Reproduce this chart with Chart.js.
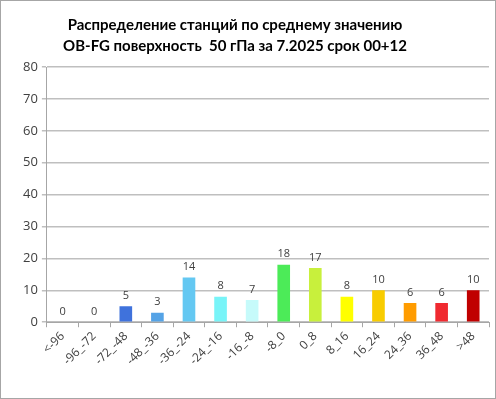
<!DOCTYPE html>
<html>
<head>
<meta charset="utf-8">
<script src="https://cdn.jsdelivr.net/npm/chart.js@4"></script>
<style>
  html, body { margin: 0; padding: 0; background: #fff; }
  #wrap { width: 496px; height: 399px; box-sizing: border-box; border: 1px solid #a6a6a6; }
</style>
</head>
<body>
<div id="wrap"><canvas id="distChart" width="494" height="397"></canvas></div>
<script>
const categories = ["<-96", "-96_-72", "-72_-48", "-48_-36", "-36_-24", "-24_-16", "-16_-8",
                    "-8_0", "0_8", "8_16", "16_24", "24_36", "36_48", ">48"];
const stationCounts = [0, 0, 5, 3, 14, 8, 7, 18, 17, 8, 10, 6, 6, 10];
const barColors = ["#4472c4", "#4472c4", "#3f72dc", "#55a3e6", "#64c8f2", "#78f4f8", "#c6fafa",
                   "#4ceb58", "#c8f03c", "#ffff00", "#f8cc00", "#ff9c00", "#f02a30", "#c00000"];
const yTicks = [0, 10, 20, 30, 40, 50, 60, 70, 80];
const titleLines = ["Распределение станций по среднему значению",
                    "OB-FG поверхность  50 гПа за 7.2025 срок 00+12"];

// title sits a bit left of the plot centre, like in the original sheet
const chartTitle = {
    id: "chartTitle",
    afterDraw(chart) {
        const ctx = chart.ctx;
        ctx.save();
        ctx.font = "bold 15px Lato, sans-serif";
        ctx.fillStyle = "#000";
        ctx.textAlign = "center";
        ctx.textBaseline = "middle";
        titleLines.forEach(function (line, i) {
            ctx.fillText(line, 234, 24 + i * 21);
        });
        ctx.restore();
    }
};

// value labels above bars
const valueLabels = {
    id: "valueLabels",
    afterDatasetsDraw(chart) {
        const ctx = chart.ctx;
        const meta = chart.getDatasetMeta(0);
        ctx.save();
        ctx.font = "11px 'Open Sans', sans-serif";
        ctx.fillStyle = "#404040";
        ctx.textAlign = "center";
        ctx.textBaseline = "bottom";
        meta.data.forEach(function (bar, i) {
            ctx.fillText(String(stationCounts[i]), bar.x, bar.y - 5);
        });
        ctx.restore();
    }
};

const canvas = document.getElementById("distChart");

new Chart(canvas, {
    type: "bar",
    data: {
        labels: categories,
        datasets: [{
            data: stationCounts,
            backgroundColor: barColors,
            borderWidth: 0,
            barPercentage: 0.4,
            categoryPercentage: 1.0
        }]
    },
    options: {
        responsive: false,
        animation: false,
        layout: { padding: { left: 18, right: 6, top: 66, bottom: 28 } },
        plugins: {
            legend: { display: false },
            tooltip: { enabled: false },
            title: { display: false }
        },
        scales: {
            x: {
                grid: {
                    display: true,
                    drawOnChartArea: false,
                    drawTicks: true,
                    tickLength: 5,
                    color: "#a6a6a6",
                    offset: true
                },
                border: { color: "#a6a6a6" },
                ticks: {
                    color: "#404040",
                    font: { family: "'Open Sans'", size: 12 },
                    minRotation: 45,
                    maxRotation: 45,
                    autoSkip: false,
                    padding: 2
                }
            },
            y: {
                min: 0,
                max: 80,
                afterBuildTicks(axis) {
                    axis.ticks = yTicks.map(function (v) { return { value: v }; });
                },
                grid: {
                    color: "#bfbfbf",
                    tickLength: 5,
                    lineWidth: 1.5
                },
                border: { color: "#a6a6a6" },
                ticks: {
                    color: "#404040",
                    font: { family: "'Open Sans'", size: 13 },
                    padding: 4
                }
            }
        }
    },
    plugins: [valueLabels, chartTitle]
});
</script>
</body>
</html>
